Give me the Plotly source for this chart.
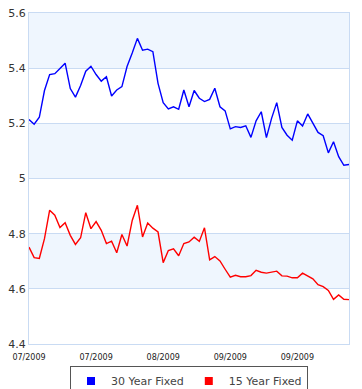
import plotly.graph_objects as go

# ---- data ----
fixed30 = [5.214, 5.197, 5.222, 5.319, 5.377, 5.380, 5.399, 5.418, 5.326, 5.295,
           5.337, 5.389, 5.407, 5.377, 5.353, 5.369, 5.299, 5.321, 5.333, 5.406,
           5.455, 5.508, 5.465, 5.469, 5.460, 5.345, 5.275, 5.252, 5.260, 5.251,
           5.321, 5.260, 5.319, 5.291, 5.279, 5.287, 5.327, 5.260, 5.245, 5.180,
           5.188, 5.185, 5.191, 5.149, 5.209, 5.242, 5.148, 5.218, 5.275, 5.185,
           5.157, 5.139, 5.209, 5.190, 5.234, 5.200, 5.167, 5.155, 5.093, 5.133,
           5.079, 5.048, 5.051]
fixed15 = [4.751, 4.713, 4.710, 4.782, 4.885, 4.867, 4.822, 4.840, 4.794, 4.761,
           4.785, 4.876, 4.818, 4.844, 4.812, 4.764, 4.773, 4.731, 4.797, 4.755,
           4.848, 4.903, 4.788, 4.839, 4.820, 4.806, 4.695, 4.739, 4.745, 4.720,
           4.764, 4.770, 4.787, 4.772, 4.821, 4.705, 4.717, 4.701, 4.671, 4.642,
           4.649, 4.644, 4.644, 4.648, 4.667, 4.660, 4.657, 4.660, 4.664, 4.647,
           4.646, 4.640, 4.640, 4.657, 4.646, 4.636, 4.615, 4.608, 4.594, 4.562,
           4.578, 4.562, 4.561]
x_index = list(range(len(fixed30)))
tick_positions = [0, 13, 26, 39, 52]
tick_labels = ["07/2009", "07/2009", "08/2009", "09/2009", "09/2009"]
y_ticks = [4.4, 4.6, 4.8, 5.0, 5.2, 5.4, 5.6]
y_tick_labels = ["4.4", "4.6", "4.8", "5", "5.2", "5.4", "5.6"]
series_names = ["30 Year Fixed", "15 Year Fixed"]
series_colors = ["#0000FF", "#FF0000"]

GRID = "#C9DBF3"
BAND = "#EFF6FE"
FONT = "DejaVu Sans"

fig = go.Figure()

for vals, name, col in zip([fixed30, fixed15], series_names, series_colors):
    fig.add_trace(go.Scatter(x=x_index, y=vals, mode="lines", name=name,
                             line=dict(color=col, width=1.4),
                             showlegend=False, hoverinfo="skip"))
# legend entries with square swatches
for name, col in zip(series_names, series_colors):
    fig.add_trace(go.Scatter(x=[None], y=[None], mode="markers", name=name,
                             marker=dict(symbol="square", size=8, color=col)))

# alternating horizontal bands
for i in range(len(y_ticks) - 1):
    if i % 2 == 1:
        fig.add_shape(type="rect", xref="paper", x0=0, x1=1, yref="y",
                      y0=y_ticks[i], y1=y_ticks[i + 1], fillcolor=BAND,
                      line_width=0, layer="below")

fig.update_layout(
    width=362, height=389,
    margin=dict(l=29, r=13, t=13, b=45, autoexpand=False),
    paper_bgcolor="white", plot_bgcolor="white",
    font=dict(family=FONT, color="#333333", size=11),
    showlegend=True,
    legend=dict(orientation="h", x=0.5, xanchor="center", y=-0.065, yanchor="top",
                bgcolor="white", bordercolor="#555555", borderwidth=1,
                font=dict(family=FONT, size=11, color="#444444"),
                itemwidth=30, tracegroupgap=0),
)
fig.update_xaxes(range=[0, len(fixed30) - 1], tickmode="array",
                 tickvals=tick_positions, ticktext=tick_labels,
                 showgrid=False, zeroline=False, showline=True, linecolor=GRID,
                 mirror=True, ticks="", ticklabelstandoff=5,
                 tickfont=dict(size=8, color="#222222"))
fig.update_yaxes(range=[4.4, 5.6], tickmode="array", tickvals=y_ticks,
                 ticktext=y_tick_labels, showgrid=True, gridcolor=GRID,
                 zeroline=False, showline=True, linecolor=GRID, mirror=True,
                 ticks="", tickfont=dict(size=11, color="#333333"))

fig.write_html("out.html", config={"displayModeBar": False},
               post_script="document.body.style.margin='0';")
